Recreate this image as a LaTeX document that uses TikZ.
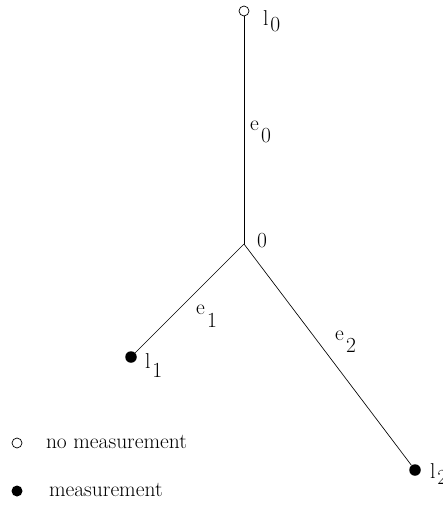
\documentclass[tikz,border=0pt]{standalone}
\begin{document}
\begin{tikzpicture}[x=1pt,y=-1pt,
  every node/.style={font=\fontsize{21.5}{25}\selectfont},
  opendot/.style={circle,draw,line width=0.7pt,fill=white,minimum size=10pt,inner sep=0pt},
  fulldot/.style={circle,fill=black,minimum size=11.5pt,inner sep=0pt},
  lab/.style={anchor=base west,inner sep=0pt,outer sep=0pt},
  edge/.style={line width=0.65pt}]
\useasboundingbox (0,0) rectangle (442,508);
\node[coordinate] (c) at (244,244) {};
\node[opendot] (l0) at (244,11) {};
\node[fulldot] (l1) at (131,357) {};
\node[fulldot] (l2) at (415,470) {};
\draw[edge] (c) -- (l0);
\draw[edge] (c) -- (l1);
\draw[edge] (c) -- (l2);
\node[lab] (tl0) at (263,26) {l\hspace{2pt}\raisebox{-6pt}{0}};
\node[lab] (te0) at (250,131) {e\hspace{2.5pt}\raisebox{-12pt}{0}};
\node[lab] (tc) at (257,247) {0};
\node[lab] (te1) at (196,314) {e\hspace{2.5pt}\raisebox{-13pt}{1}};
\node[lab] (tl1) at (145,368) {l\hspace{2pt}\raisebox{-9pt}{1}};
\node[lab] (te2) at (335,340) {e\hspace{2.5pt}\raisebox{-12pt}{2}};
\node[lab] (tl2) at (430,478) {l\hspace{2pt}\raisebox{-6pt}{2}};
\node[opendot,minimum size=10pt] (k0) at (17,443) {};
\node[fulldot,minimum size=11pt] (k1) at (17,491) {};
\node[lab] (t0) at (46,448) {no measurement};
\node[lab] (t1) at (49,496) {measurement};
\end{tikzpicture}
\end{document}
